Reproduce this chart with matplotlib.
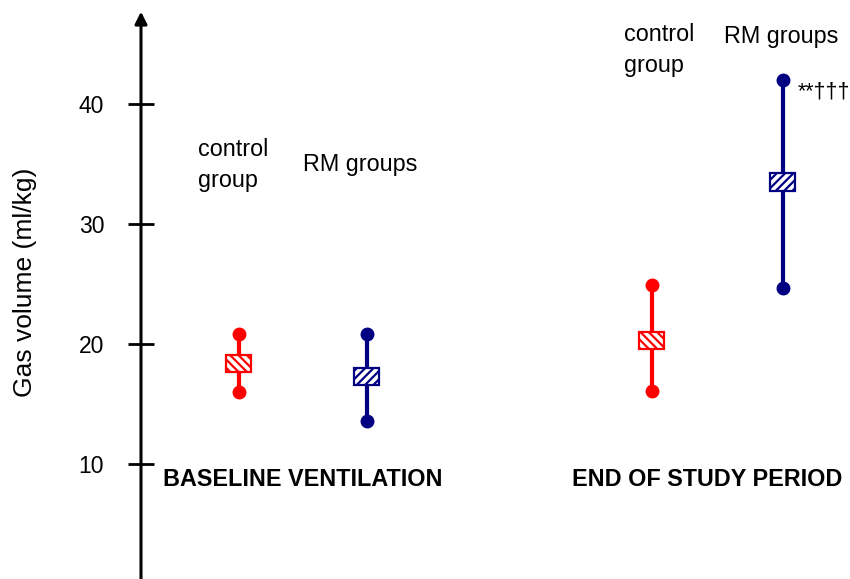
import matplotlib
matplotlib.use("Agg")
import matplotlib.pyplot as plt
from matplotlib.patches import Rectangle

plt.rcParams['font.family'] = ['Liberation Sans', 'DejaVu Sans']
plt.rcParams['hatch.linewidth'] = 1.6

# Gas volume (ml/kg): mean with range for each group and period
groups = ["control group", "RM groups", "control group", "RM groups"]
means = [18.4, 17.3, 20.3, 33.5]
lows = [16.0, 13.6, 16.1, 24.7]
highs = [20.8, 20.8, 24.9, 42.0]
colors = ["#FF0000", "#000080", "#FF0000", "#000080"]
hatches = ["\\\\\\\\", "////", "\\\\\\\\", "////"]
yticks = [10, 20, 30, 40]

# horizontal layout (figure-pixel scale)
xpos = [239, 367, 652, 783]
axis_x = 141

fig = plt.figure(figsize=(8.5, 5.79), dpi=100)
ax = fig.add_axes([0, 0, 1, 1])
ax.set_xlim(0, 850)
ax.set_ylim(0.42, 48.67)
for s in ["top", "right", "bottom"]:
    ax.spines[s].set_visible(False)
ax.spines["left"].set_position(("data", axis_x))
ax.spines["left"].set_visible(False)
ax.set_xticks([])
ax.set_yticks(yticks)
ax.set_yticklabels([str(t) for t in yticks], fontsize=16.5)
ax.tick_params(axis="y", direction="inout", length=19, width=2.0, pad=17)

# vertical axis with arrow head
ax.annotate("", xy=(axis_x, 47.7), xytext=(axis_x, 0.0),
            arrowprops=dict(arrowstyle="-|>", lw=2.2, color="black",
                            mutation_scale=18, shrinkA=0, shrinkB=0))

box_w = 25
box_h = 1.45
for x, m, lo, hi, c, h in zip(xpos, means, lows, highs, colors, hatches):
    ax.plot([x, x], [lo, hi], color=c, lw=3.0, solid_capstyle="butt", zorder=2)
    ax.plot([x, x], [lo, hi], "o", color=c, ms=9, zorder=3)
    ax.add_patch(Rectangle((x - box_w / 2, m - box_h / 2), box_w, box_h,
                           facecolor="white", edgecolor=c, lw=1.6,
                           hatch=h, zorder=4))

ax.set_ylabel("Gas volume (ml/kg)", fontsize=19)
ax.yaxis.set_label_coords(37 / 850, 1 - 282 / 579)

fig.text(198 / 850, 1 - 165 / 579, "control\ngroup", fontsize=16.8,
         ha="left", va="center", linespacing=1.4)
fig.text(303 / 850, 1 - 165 / 579, "RM groups", fontsize=16.8,
         ha="left", va="center")
fig.text(624 / 850, 1 - 50 / 579, "control\ngroup", fontsize=16.8,
         ha="left", va="center", linespacing=1.4)
fig.text(724 / 850, 1 - 37 / 579, "RM groups", fontsize=16.8,
         ha="left", va="center")
fig.text(798 / 850, 1 - 92 / 579, "**\u2020\u2020\u2020", fontsize=15.5,
         ha="left", va="center")

fig.text(163 / 850, 1 - 479 / 579, "BASELINE VENTILATION", fontsize=16.8,
         fontweight="bold", ha="left", va="center")
fig.text(572 / 850, 1 - 479 / 579, "END OF STUDY PERIOD", fontsize=16.8,
         fontweight="bold", ha="left", va="center")

fig.savefig("out.png", dpi=100)
